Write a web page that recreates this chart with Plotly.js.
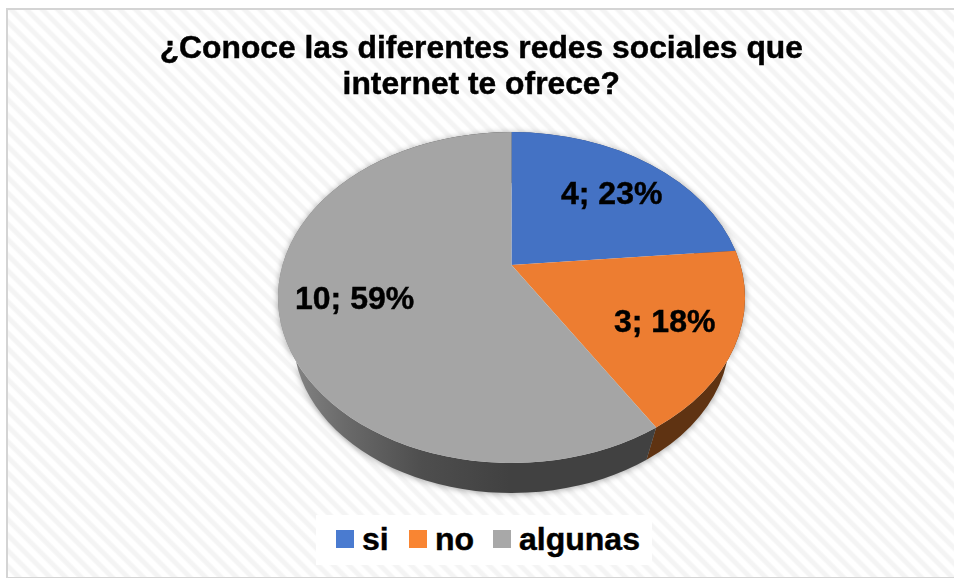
<!DOCTYPE html>
<html><head><meta charset="utf-8">
<script src="https://cdn.plot.ly/plotly-3.0.1.min.js"></script>
<style>
html,body{margin:0;padding:0;background:#fff;width:954px;height:578px;overflow:hidden}
#bg{position:absolute;left:6px;top:8px;width:948px;height:567px;border:2px solid #d4d4d4;border-right:none;
background:repeating-linear-gradient(45deg,#fff 0,#fff 4px,#f4f4f4 6px,#f4f4f4 9px,#fff 11px)}
#plot{position:absolute;left:0;top:0;width:954px;height:578px;filter:blur(0.35px)}
#plot .gtitle,#plot .annotation-text,#plot .legendtext{stroke:#000;stroke-width:0.45px}
</style></head><body>
<div id="bg"></div><div id="plot"></div>
<script>
const categories=['si','no','algunas'];
const counts=[4,3,10];
const percents=['23%','18%','59%'];
const colors=['#4472C4','#ED7D31','#A5A5A5'];
const rimColors=['#2a4478','#5F3312','url(#rimGray)'];
const swatchColors=['#4a7bd0','#f98532','#a8a8a8'];
const titleText='¿Conoce las diferentes redes sociales que<br>internet te ofrece?';

// 3D look: top and bottom ellipses of the tilted disc, and the perspective shift of its centre
const top_={cx:511.5,cy:297.5,rx:233.5,ry:165.5};
const bot_={cx:511.5,cy:338,rx:218,ry:155};
const persp=0.196;
const labelPos=[[611,193],[664,321],[354,298]];
const legendSwatchX=[345,418,502];
const legendTextX=[362,435,519];
const legendY=539;
const legendBox=[316,515,336,50];

const pieBase={type:'pie',labels:categories,values:counts,sort:false,direction:'clockwise',rotation:0,
  textinfo:'none',hoverinfo:'label+value+percent',domain:{x:[0.29,0.78],y:[0.2,0.77]}};
const data=[
  Object.assign({},pieBase,{marker:{colors:colors,line:{width:0}},showlegend:false,name:'rim'}),
  Object.assign({},pieBase,{marker:{colors:colors,line:{width:0}},showlegend:true,name:'top'})
];
const layout={width:954,height:578,margin:{l:0,r:0,t:0,b:0},paper_bgcolor:'rgba(0,0,0,0)',plot_bgcolor:'rgba(0,0,0,0)',
  font:{family:'Liberation Sans, Arial, sans-serif',color:'#000'},
  title:{text:titleText,x:0.5045,xanchor:'center',y:0.8996,yanchor:'top',font:{size:31.8,weight:700,color:'#000'}},
  showlegend:true,
  legend:{orientation:'h',x:0.5,xanchor:'center',y:0.025,yanchor:'bottom',bgcolor:'#fff',font:{size:32,weight:700,color:'#000'},itemwidth:30,traceorder:'normal'},
  annotations:categories.map((c,i)=>({xref:'paper',yref:'paper',x:labelPos[i][0]/954,y:1-labelPos[i][1]/578,
    text:counts[i]+'; '+percents[i],showarrow:false,xanchor:'center',yanchor:'middle',font:{size:32,weight:700,color:'#000'}}))
};
function pt(e,th){ // project a circle angle on to the tilted ellipse
  const x=Math.sin(th),y=Math.cos(th),d=1+persp*y;
  return [e.cx+e.rx*x*Math.sqrt(1-persp*persp)/d, e.cy-e.ry*(y+persp)/d];
}
function arcTo(e,p,large,sweep){return `A${e.rx},${e.ry} 0 ${large} ${sweep} ${p[0]},${p[1]}`;}
Plotly.newPlot('plot',data,layout,{displayModeBar:false,staticPlot:true}).then(()=>{
  const total=counts.reduce((a,b)=>a+b,0);
  const root=document.getElementById('plot');
  const traces=root.querySelectorAll('.pielayer .trace');
  const angles=[];let acc=0;
  counts.forEach(v=>{const a0=acc/total*2*Math.PI;acc+=v;angles.push([a0,acc/total*2*Math.PI]);});
  const large=(a0,a1,e)=>{
    const p=pt(e,a0),q=pt(e,a1);
    const ang=(r)=>Math.atan2((r[0]-e.cx)/e.rx,(e.cy-r[1])/e.ry);
    let da=ang(q)-ang(p);if(da<=0)da+=2*Math.PI;return da>Math.PI?1:0;};
  const svg=root.querySelector('.main-svg');
  const NS='http://www.w3.org/2000/svg';
  let defs=svg.querySelector('defs');
  const g=document.createElementNS(NS,'linearGradient');
  g.setAttribute('id','rimGray');g.setAttribute('gradientUnits','userSpaceOnUse');
  g.setAttribute('x1',290);g.setAttribute('y1',0);g.setAttribute('x2',510);g.setAttribute('y2',0);
  [[0,'#858585'],[0.25,'#6a6a6a'],[0.6,'#4e4e4e'],[1,'#414141']].forEach(s=>{const t=document.createElementNS(NS,'stop');
    t.setAttribute('offset',s[0]);t.setAttribute('stop-color',s[1]);g.appendChild(t);});
  defs.appendChild(g);
  traces[0].querySelectorAll('.slice path.surface').forEach((el,i)=>{
    const [a0,a1]=angles[i];
    const t0=pt(top_,a0),t1=pt(top_,a1),b0=pt(bot_,a0),b1=pt(bot_,a1);
    el.setAttribute('d',`M${t0[0]},${t0[1]}L${b0[0]},${b0[1]}${arcTo(bot_,b1,large(a0,a1,bot_),1)}L${t1[0]},${t1[1]}${arcTo(top_,t0,large(a0,a1,top_),0)}Z`);
    el.style.fill=rimColors[i];el.style.stroke='none';
  });
  traces[0].style.filter='drop-shadow(0 1px 3px rgba(0,0,0,0.35))';
  traces[1].querySelectorAll('.slice path.surface').forEach((el,i)=>{
    const [a0,a1]=angles[i];
    const c=[top_.cx,top_.cy-top_.ry*persp],p=pt(top_,a0),q=pt(top_,a1);
    el.setAttribute('d',`M${c[0]},${c[1]}L${p[0]},${p[1]}${arcTo(top_,q,large(a0,a1,top_),1)}Z`);
    el.style.stroke='none';
  });
  // title line spacing
  const lines=root.querySelectorAll('.gtitle tspan.line');
  if(lines.length>1){lines[1].setAttribute('dy','36px');}
  // legend placement
  const leg=root.querySelector('.legend');
  const sb=leg.querySelector('.scrollbox');if(sb)sb.removeAttribute('clip-path');
  const bg=leg.querySelector('rect.bg');
  const m=bg.parentNode.getCTM();
  bg.setAttribute('x',legendBox[0]-m.e);bg.setAttribute('y',legendBox[1]-m.f);
  bg.setAttribute('width',legendBox[2]);bg.setAttribute('height',legendBox[3]);
  bg.style.strokeWidth='0';
  leg.querySelectorAll('.traces').forEach((tr,i)=>{
    const p=tr.querySelector('.legendpoints path');
    const pm=p.parentNode.getCTM();
    p.setAttribute('transform',`translate(${legendSwatchX[i]-pm.e},${legendY-pm.f}) scale(1.5)`);
    p.style.fill=swatchColors[i];p.style.stroke='none';
    const t=tr.querySelector('text.legendtext');
    const tm=t.parentNode.getCTM();
    t.setAttribute('x',legendTextX[i]-tm.e);
    t.setAttribute('y',legendY+11-tm.f);
  });
  window.__ready=true;
});
</script></body></html>
